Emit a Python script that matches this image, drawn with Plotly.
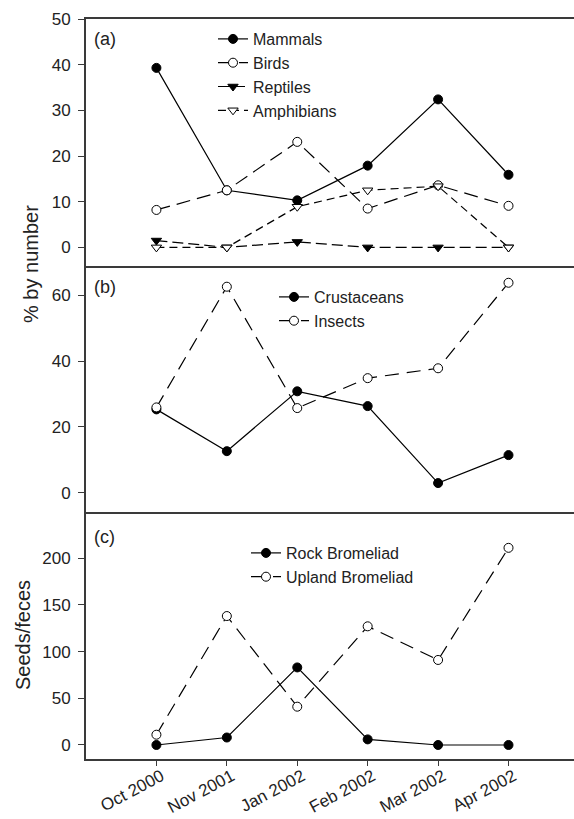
import plotly.graph_objects as go
from plotly.subplots import make_subplots

months = ["Oct 2000", "Nov 2001", "Jan 2002", "Feb 2002", "Mar 2002", "Apr 2002"]

mammals = [39.3, 12.5, 10.3, 17.9, 32.4, 15.9]
birds = [8.2, 12.5, 23.1, 8.5, 13.6, 9.1]
reptiles = [1.5, 0.0, 1.2, 0.0, 0.0, 0.0]
amphibians = [0.0, 0.0, 8.9, 12.5, 13.4, 0.0]

crustaceans = [25.3, 12.6, 30.8, 26.3, 2.9, 11.4]
insects = [25.9, 62.6, 25.7, 34.8, 37.8, 63.8]

rock_bromeliad = [0, 8, 83, 6, 0, 0]
upland_bromeliad = [11, 138, 41, 127, 91, 211]

FONT = "Liberation Sans, Arial, sans-serif"
INK = "#222222"
AX = "#3a3a3a"

fig = make_subplots(rows=3, cols=1, shared_xaxes=True, vertical_spacing=0)


def add(y, name, row, filled, symbol="circle", dash="solid", legend="legend"):
    fig.add_trace(go.Scatter(
        x=months, y=y, name=name, mode="lines+markers",
        line=dict(color="black", width=1.2, dash=dash),
        marker=dict(symbol=symbol, size=9,
                    color="black" if filled else "white",
                    line=dict(color="black", width=1)),
        legend=legend, cliponaxis=False,
    ), row=row, col=1)


add(mammals, "Mammals", 1, True)
add(birds, "Birds", 1, False, dash="14px,7px")
add(reptiles, "Reptiles", 1, True, symbol="triangle-down", dash="11px,5px")
add(amphibians, "Amphibians", 1, False, symbol="triangle-down", dash="8px,5px")

add(crustaceans, "Crustaceans", 2, True, legend="legend2")
add(insects, "Insects", 2, False, dash="14px,8px", legend="legend2")

add(rock_bromeliad, "Rock Bromeliad", 3, True, legend="legend3")
add(upland_bromeliad, "Upland Bromeliad", 3, False, dash="14px,8px", legend="legend3")

xcommon = dict(range=[-1, 5.93], showline=True, linecolor=AX, linewidth=2,
               showgrid=False, zeroline=False, type="category", automargin=False,
               categoryorder="array", categoryarray=months)
fig.update_xaxes(**xcommon)
fig.update_xaxes(row=1, col=1, mirror=True, ticks="", showticklabels=False)
fig.update_xaxes(row=2, col=1, ticks="", showticklabels=False)
fig.update_xaxes(row=3, col=1, ticks="outside", ticklen=5, tickcolor=AX,
                 tickangle=-28, ticklabelstandoff=-6, ticklabelshift=5,
                 tickfont=dict(size=17, color=INK, family=FONT))

ycommon = dict(showline=True, linecolor=AX, linewidth=2, showgrid=False,
               zeroline=False, ticks="outside", ticklen=6, tickcolor=AX,
               ticklabelstandoff=4, automargin=False,
               tickfont=dict(size=17, color=INK, family=FONT))
fig.update_yaxes(**ycommon)
fig.update_yaxes(row=1, col=1, range=[-4, 50], tickvals=[0, 10, 20, 30, 40, 50])
fig.update_yaxes(row=2, col=1, range=[-6, 69], tickvals=[0, 20, 40, 60])
fig.update_yaxes(row=3, col=1, range=[-15, 249], tickvals=[0, 50, 100, 150, 200])

L, T, W, H = 86, 19, 488, 740


def px(x):
    return (x - L) / W


def py(y):
    return (T + H - y) / H


legfont = dict(size=16, color=INK, family=FONT)
fig.update_layout(
    legend=dict(x=px(213), y=py(22), xanchor="left", yanchor="top",
                bgcolor="rgba(0,0,0,0)", font=legfont, tracegroupgap=0),
    legend2=dict(x=px(274), y=py(280), xanchor="left", yanchor="top",
                 bgcolor="rgba(0,0,0,0)", font=legfont),
    legend3=dict(x=px(246), y=py(536), xanchor="left", yanchor="top",
                 bgcolor="rgba(0,0,0,0)", font=legfont),
)

annos = [
    dict(text="(a)", x=px(92), y=py(39)),
    dict(text="(b)", x=px(92), y=py(287)),
    dict(text="(c)", x=px(92), y=py(537)),
]
for a in annos:
    fig.add_annotation(xref="paper", yref="paper", xanchor="left", yanchor="middle",
                       showarrow=False, font=dict(size=18, color=INK, family=FONT), **a)

fig.add_annotation(text="% by number", xref="paper", yref="paper",
                   x=px(31), y=py(264), xanchor="center", yanchor="middle",
                   textangle=-90, showarrow=False,
                   font=dict(size=20, color=INK, family=FONT))
fig.add_annotation(text="Seeds/feces", xref="paper", yref="paper",
                   x=px(23), y=py(635), xanchor="center", yanchor="middle",
                   textangle=-90, showarrow=False,
                   font=dict(size=20, color=INK, family=FONT))

fig.update_layout(
    width=574, height=819,
    margin=dict(l=L, r=0, t=T, b=819 - T - H, autoexpand=False),
    plot_bgcolor="white", paper_bgcolor="white",
    font=dict(family=FONT, color=INK),
)

fig.write_html("out.html", config={"displayModeBar": False},
               post_script="document.body.style.margin='0px';")
